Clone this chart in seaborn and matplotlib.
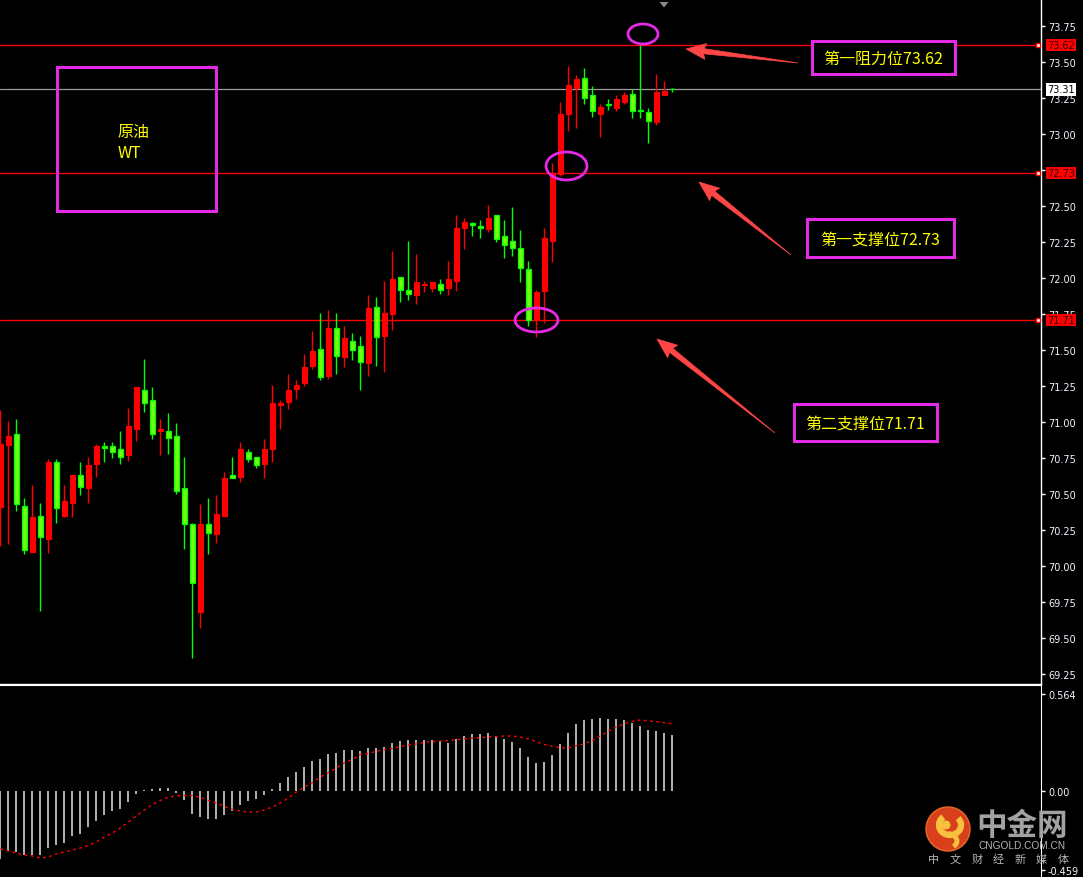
import numpy as np
import pandas as pd
import matplotlib
matplotlib.use("Agg")
import matplotlib.pyplot as plt
import seaborn as sns
from matplotlib.patches import Rectangle, Ellipse, Polygon, Circle, Arc

# ---------------- data ----------------
opens = [70.41, 70.84, 70.92, 70.42, 70.10, 70.35, 70.19, 70.72, 70.35, 70.44,
         70.63, 70.54, 70.71, 70.83, 70.83, 70.81, 70.77, 70.95, 71.22, 71.15,
         70.94, 70.94, 70.90, 70.54, 70.29, 69.68, 70.29, 70.22, 70.35, 70.63,
         70.62, 70.79, 70.76, 70.71, 70.81, 71.12, 71.14, 71.23, 71.27, 71.39,
         71.51, 71.32, 71.65, 71.45, 71.56, 71.53, 71.41, 71.80, 71.60, 71.75,
         72.01, 71.92, 71.88, 71.95, 71.93, 71.96, 71.93, 71.98, 72.35, 72.38,
         72.36, 72.34, 72.44, 72.29, 72.26, 72.21, 72.06, 71.71, 71.91, 72.26,
         72.72, 73.14, 73.32, 73.39, 73.27, 73.14, 73.21, 73.18, 73.22, 73.28,
         73.17, 73.15, 73.08, 73.27, 73.315]
highs = [71.08, 71.01, 71.02, 70.47, 70.56, 70.44, 70.74, 70.74, 70.56, 70.63,
         70.72, 70.76, 70.85, 70.86, 70.86, 70.94, 71.10, 71.24, 71.44, 71.24,
         71.02, 71.06, 70.99, 70.76, 70.30, 70.43, 70.47, 70.49, 70.65, 70.76,
         70.86, 70.81, 70.76, 70.88, 71.26, 71.15, 71.33, 71.29, 71.47, 71.63,
         71.76, 71.78, 71.76, 71.67, 71.62, 71.60, 71.88, 71.87, 71.98, 72.19,
         72.01, 72.26, 72.17, 71.98, 71.97, 71.99, 72.12, 72.44, 72.42, 72.39,
         72.40, 72.51, 72.44, 72.40, 72.49, 72.33, 72.12, 71.92, 72.35, 72.80,
         73.22, 73.47, 73.41, 73.46, 73.33, 73.21, 73.24, 73.27, 73.29, 73.31,
         73.62, 73.18, 73.42, 73.37, 73.32]
lows = [70.14, 70.15, 70.38, 70.08, 70.10, 69.69, 70.09, 70.30, 70.34, 70.34,
        70.49, 70.44, 70.62, 70.72, 70.75, 70.71, 70.73, 70.87, 71.07, 70.88,
        70.77, 70.78, 70.50, 70.12, 69.36, 69.57, 70.08, 70.16, 70.34, 70.61,
        70.58, 70.72, 70.68, 70.61, 70.72, 70.95, 71.09, 71.16, 71.25, 71.37,
        71.29, 71.30, 71.33, 71.38, 71.43, 71.22, 71.32, 71.39, 71.35, 71.64,
        71.83, 71.85, 71.82, 71.90, 71.90, 71.89, 71.88, 71.91, 72.20, 72.29,
        72.28, 72.32, 72.25, 72.14, 72.15, 71.97, 71.67, 71.59, 71.69, 72.11,
        72.71, 73.02, 73.04, 73.21, 73.12, 72.98, 73.17, 73.16, 73.21, 73.11,
        73.11, 72.94, 73.06, 73.27, 73.29]
closes = [70.85, 70.90, 70.43, 70.11, 70.34, 70.20, 70.72, 70.40, 70.45, 70.63,
          70.55, 70.70, 70.83, 70.82, 70.79, 70.76, 70.97, 71.24, 71.13, 70.92,
          70.95, 70.89, 70.52, 70.29, 69.88, 70.29, 70.23, 70.36, 70.61, 70.61,
          70.81, 70.74, 70.70, 70.81, 71.13, 71.13, 71.22, 71.26, 71.38, 71.49,
          71.31, 71.65, 71.46, 71.58, 71.50, 71.42, 71.79, 71.59, 71.76, 71.99,
          71.92, 71.89, 71.97, 71.96, 71.97, 71.92, 71.99, 72.35, 72.39, 72.37,
          72.35, 72.42, 72.27, 72.23, 72.21, 72.07, 71.71, 71.90, 72.28, 72.72,
          73.14, 73.34, 73.38, 73.25, 73.16, 73.19, 73.20, 73.24, 73.27, 73.16,
          73.16, 73.09, 73.29, 73.30, 73.31]

macd_hist = [-0.394, -0.348, -0.354, -0.374, -0.369, -0.374, -0.329, -0.316, -0.300, -0.263,
             -0.248, -0.211, -0.172, -0.142, -0.118, -0.103, -0.066, -0.020, 0.008, 0.013,
             0.019, 0.019, -0.010, -0.055, -0.136, -0.153, -0.165, -0.165, -0.142, -0.118,
             -0.084, -0.060, -0.049, -0.026, 0.013, 0.048, 0.083, 0.112, 0.141, 0.176,
             0.187, 0.216, 0.222, 0.240, 0.240, 0.234, 0.251, 0.251, 0.257, 0.280,
             0.292, 0.298, 0.298, 0.298, 0.298, 0.292, 0.280, 0.303, 0.321, 0.332,
             0.332, 0.338, 0.321, 0.303, 0.286, 0.251, 0.199, 0.164, 0.170, 0.211,
             0.274, 0.338, 0.390, 0.414, 0.419, 0.425, 0.419, 0.419, 0.414, 0.396,
             0.379, 0.356, 0.350, 0.338, 0.327]
macd_signal = [-0.336, -0.348, -0.360, -0.371, -0.377, -0.389, -0.383, -0.365, -0.354, -0.342,
               -0.331, -0.316, -0.296, -0.267, -0.244, -0.215, -0.180, -0.145, -0.110, -0.078,
               -0.055, -0.035, -0.029, -0.026, -0.026, -0.037, -0.055, -0.070, -0.089, -0.107,
               -0.116, -0.122, -0.122, -0.110, -0.093, -0.070, -0.041, -0.006, 0.023, 0.048,
               0.081, 0.106, 0.133, 0.164, 0.183, 0.211, 0.218, 0.230, 0.240, 0.247,
               0.257, 0.267, 0.273, 0.282, 0.286, 0.290, 0.292, 0.298, 0.302, 0.307,
               0.309, 0.313, 0.315, 0.319, 0.319, 0.313, 0.302, 0.286, 0.269, 0.259,
               0.251, 0.249, 0.263, 0.273, 0.293, 0.319, 0.348, 0.371, 0.390, 0.404,
               0.412, 0.406, 0.402, 0.396, 0.390]

price_ticks = [69.25, 69.50, 69.75, 70.00, 70.25, 70.50, 70.75, 71.00, 71.25,
               71.50, 71.75, 72.00, 72.25, 72.50, 72.75, 73.00, 73.25, 73.50, 73.75]
level_lines = [73.62, 72.73, 71.71]
last_price = 73.31
macd_ticks = [0.564, 0.0, -0.459]
macd_tick_labels = ["0.564", "0.00", "-0.459"]

level_texts = ["第一阻力位73.62", "第一支撑位72.73", "第二支撑位71.71"]
title_lines = ["原油", "WT"]
logo_big = "中金网"
logo_url = "CNGOLD.COM.CN"
logo_sub = "中文财经新媒体"

# ---------------- style ----------------
sns.set_style("dark", {"axes.facecolor": "black", "figure.facecolor": "black",
                       "axes.edgecolor": "white", "grid.color": "black"})
plt.rcParams["font.family"] = ["DejaVu Sans"]
CJK = ["Noto Sans CJK SC", "DejaVu Sans"]

W, H = 1083, 878
fig = plt.figure(figsize=(W / 100, H / 100), dpi=100)
fig.patch.set_facecolor("black")

ax = fig.add_axes([0, 1 - 684.5 / H, 1041 / W, 684.5 / H])
ax2 = fig.add_axes([0, 0, 1041 / W, 1 - 686.3 / H])

df = pd.DataFrame({"o": opens, "h": highs, "l": lows, "c": closes})
df["i"] = np.arange(len(df))
up = df["c"] >= df["o"]

RED = "#ff0000"
GREEN_EDGE = "#00ff00"
GREEN_FILL = "#72ff12"

# wicks
ax.vlines(df.loc[up, "i"], df.loc[up, "l"], df.loc[up, "h"], color=RED, lw=1.0, zorder=3)
ax.vlines(df.loc[~up, "i"], df.loc[~up, "l"], df.loc[~up, "h"], color=GREEN_EDGE, lw=1.0, zorder=3)
# bodies
body_lo = np.minimum(df["o"], df["c"])
body_h = np.maximum(np.abs(df["c"] - df["o"]), 0.004)
ax.bar(df.loc[up, "i"], body_h[up], bottom=body_lo[up], width=0.58,
       color=RED, edgecolor=RED, lw=0.8, zorder=4)
ax.bar(df.loc[~up, "i"], body_h[~up], bottom=body_lo[~up], width=0.58,
       color=GREEN_FILL, edgecolor=GREEN_EDGE, lw=0.9, zorder=4)

# level lines
for lv in level_lines:
    ax.axhline(lv, color=RED, lw=1.0, zorder=2)
ax.axhline(last_price, color="#9a9a9a", lw=0.9, zorder=2)

ax.set_xlim(-0.04, 130.08)
ax.set_ylim(73.75 - (684.5 - 27) / 144, 73.75 + 27 / 144)
ax.set_xticks([])
ax.yaxis.tick_right()
ax.set_yticks(price_ticks)
ax.set_yticklabels([f"{t:.2f}" for t in price_ticks])
ax.tick_params(axis="y", colors="white", length=3, width=1, labelsize=7, pad=2,
               labelcolor="#f0f4ff")
for s in ["left", "top"]:
    ax.spines[s].set_visible(False)
ax.spines["right"].set_color("white")
ax.spines["bottom"].set_color("white")
ax.spines["right"].set_linewidth(1)
ax.spines["bottom"].set_linewidth(1)
ax.grid(False)

ytr = ax.get_yaxis_transform()
for lv in level_lines:
    ax.text(1.0055, lv, f"{lv:.2f}", transform=ytr, fontsize=7, color="#300000",
            va="center", ha="left", zorder=10, clip_on=False,
            bbox=dict(boxstyle="square,pad=0.12", fc=RED, ec="none"))
    ax.plot([0.9975], [lv], marker="s", ms=3.5, mfc="white", mec=RED, mew=1,
            transform=ytr, clip_on=False, zorder=10)
ax.text(1.0055, last_price, f"{last_price:.2f}", transform=ytr, fontsize=7, color="black",
        va="center", ha="left", zorder=10, clip_on=False,
        bbox=dict(boxstyle="square,pad=0.12", fc="white", ec="none"))

# ---------------- MACD panel ----------------
idx = np.arange(len(macd_hist))
ax2.vlines(idx, 0, macd_hist, color="#d0d0d0", lw=1.2, zorder=2)
sns.lineplot(x=idx, y=macd_signal, ax=ax2, color=RED, lw=1.0, linestyle=(0, (2, 2.5)),
             zorder=3)
ax2.set_xlim(-0.04, 130.08)
ax2.set_ylim(-0.499, 0.613)
ax2.set_xticks([])
ax2.yaxis.tick_right()
ax2.set_yticks(macd_ticks)
ax2.set_yticklabels(macd_tick_labels)
ax2.tick_params(axis="y", colors="white", length=3, width=1, labelsize=7, pad=2,
                labelcolor="#f0f4ff")
for s in ["left", "bottom"]:
    ax2.spines[s].set_visible(False)
ax2.spines["right"].set_color("white")
ax2.spines["top"].set_color("white")
ax2.grid(False)

# ---------------- annotation overlay (pixel coordinates) ----------------
ov = fig.add_axes([0, 0, 1, 1])
ov.set_xlim(0, W)
ov.set_ylim(H, 0)
ov.axis("off")
ov.patch.set_alpha(0)

MAG = "#e52ae5"
YEL = "#ffff00"

ov.add_patch(Rectangle((57, 68), 159, 144, fill=False, ec=MAG, lw=2.2))
ov.text(133, 132, title_lines[0], color=YEL, fontsize=11.5, ha="center", va="center", family=CJK)
ov.text(129, 154, title_lines[1], color=YEL, fontsize=11.5, ha="center", va="center", family=CJK)

for (cx, cy, ew, eh) in [(643, 35, 30, 20), (566.5, 167, 41, 28), (536.5, 321, 43, 24)]:
    ov.add_patch(Ellipse((cx, cy), ew, eh, fill=False, ec=MAG, lw=2.0))

boxes = [(812, 42, 143, 33), (807, 220, 147, 38), (794, 405, 143, 37)]
for (bx, by, bw, bh), t in zip(boxes, level_texts):
    ov.add_patch(Rectangle((bx, by), bw, bh, fc="black", ec=MAG, lw=2.2))
    ov.text(bx + bw / 2, by + bh / 2 + 1, t, color=YEL, fontsize=11.5, ha="center",
            va="center", family=CJK)


def arrow_poly(tip, tail, L=18, hw=8, sw=2.6):
    T = np.array(tip, float)
    S = np.array(tail, float)
    d = (T - S) / np.linalg.norm(T - S)
    n = np.array([-d[1], d[0]])
    neck = T - d * L
    pts = [T, neck - d * 2 + n * hw, neck + n * sw, S, neck - n * sw, neck - d * 2 - n * hw]
    return Polygon(pts, closed=True, fc="#ff4545", ec="#ff4545", lw=0.5)


for tip, tail in [((686, 50), (798, 64)), ((699, 183), (791, 256)), ((657, 340), (775, 434))]:
    ov.add_patch(arrow_poly(tip, tail))

# small marker at top
ov.add_patch(Polygon([(659.5, 3), (668.5, 3), (664, 8.5)], closed=True, fc="#8a8a8a", ec="none"))

# logo
ov.add_patch(Circle((948, 830), 22, fc="#d8401c", ec="#e86a2a", lw=1))
ov.add_patch(Arc((950, 826), 22, 20, theta1=-40, theta2=230, color="#f7c13c", lw=4.5))
ov.add_patch(Circle((946, 826), 4.5, fc="#f7c13c", ec="none"))
ov.add_patch(Arc((944, 842), 26, 16, theta1=300, theta2=30, color="#f7c13c", lw=3.5))
ov.text(1022, 826, logo_big, color="#a2a2a2", fontsize=22, fontweight="bold",
        ha="center", va="center", family=CJK)
ov.text(1022, 846, logo_url, color="#b4b4b4", fontsize=7.3, ha="center", va="center",
        family=["Liberation Sans", "DejaVu Sans"])
for k, ch in enumerate(logo_sub):
    ov.text(934 + k * 21.5, 860, ch, color="#b4b4b4", fontsize=8, ha="center",
            va="center", family=CJK)

fig.savefig("out.png", dpi=100, facecolor="black")
